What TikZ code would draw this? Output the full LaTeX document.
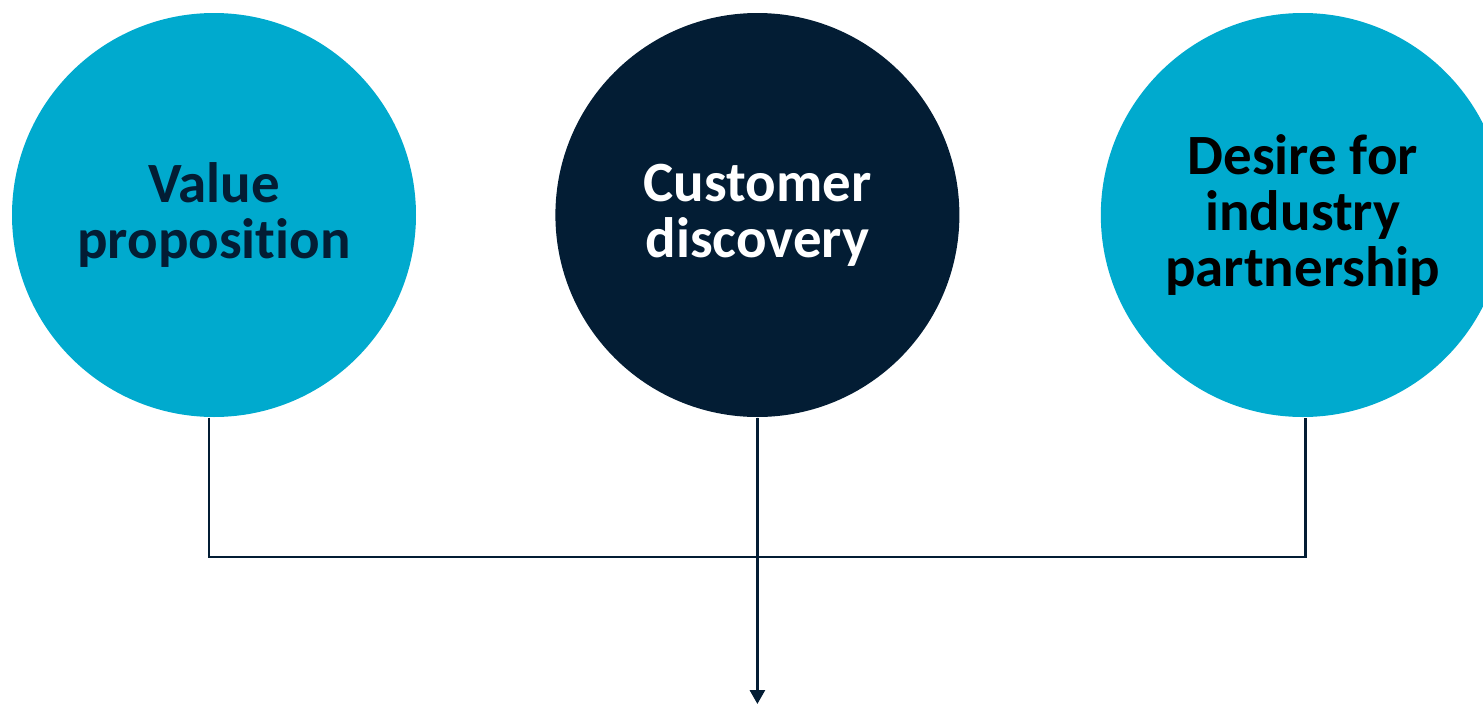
\documentclass[tikz,border=0pt]{standalone}
\usepackage{fontspec}
\setmainfont{Carlito}[Ligatures=NoCommon]
\usepackage{tikz}
\usetikzlibrary{positioning, arrows.meta}

\definecolor{tealblue}{HTML}{00AACE}
\definecolor{deepnavy}{HTML}{031D34}

\tikzset{
  bubble/.style={circle, minimum size=4.04cm, inner sep=0pt, align=center,
    font=\fontsize{16.2}{16}\selectfont\bfseries},
  link/.style={draw=deepnavy, line width=0.8pt}
}

\begin{document}
\begin{tikzpicture}
                % Fix the page size
                \useasboundingbox (0,0) rectangle (14.83,-7.04);
                \clip (0,0) rectangle (14.83,-7.04);
                
                % Draw the three circles
                \node[bubble, fill=tealblue, text=deepnavy] (valprop) at (2.14,-2.15) {Value\\proposition};
                \node[bubble, fill=deepnavy, text=white, right=1.38cm of valprop] (custdisc) {Customer\\discovery};
                \node[bubble, fill=tealblue, text=black, right=1.40cm of custdisc] (desire) {Desire for\\industry\\partnership};
                
                % Connectors
                \coordinate (join) at (custdisc.south |- 0,-5.57);
                \coordinate (arrowend) at (custdisc.south |- 0,-7.04);
                \draw[link] ([xshift=-0.05cm]valprop.south) |- (join) -| ([xshift=0.03cm]desire.south);
                \draw[link, -{Triangle[length=0.14cm, width=0.15cm]}] (custdisc.south) -- (arrowend);
            \end{tikzpicture}
\end{document}
